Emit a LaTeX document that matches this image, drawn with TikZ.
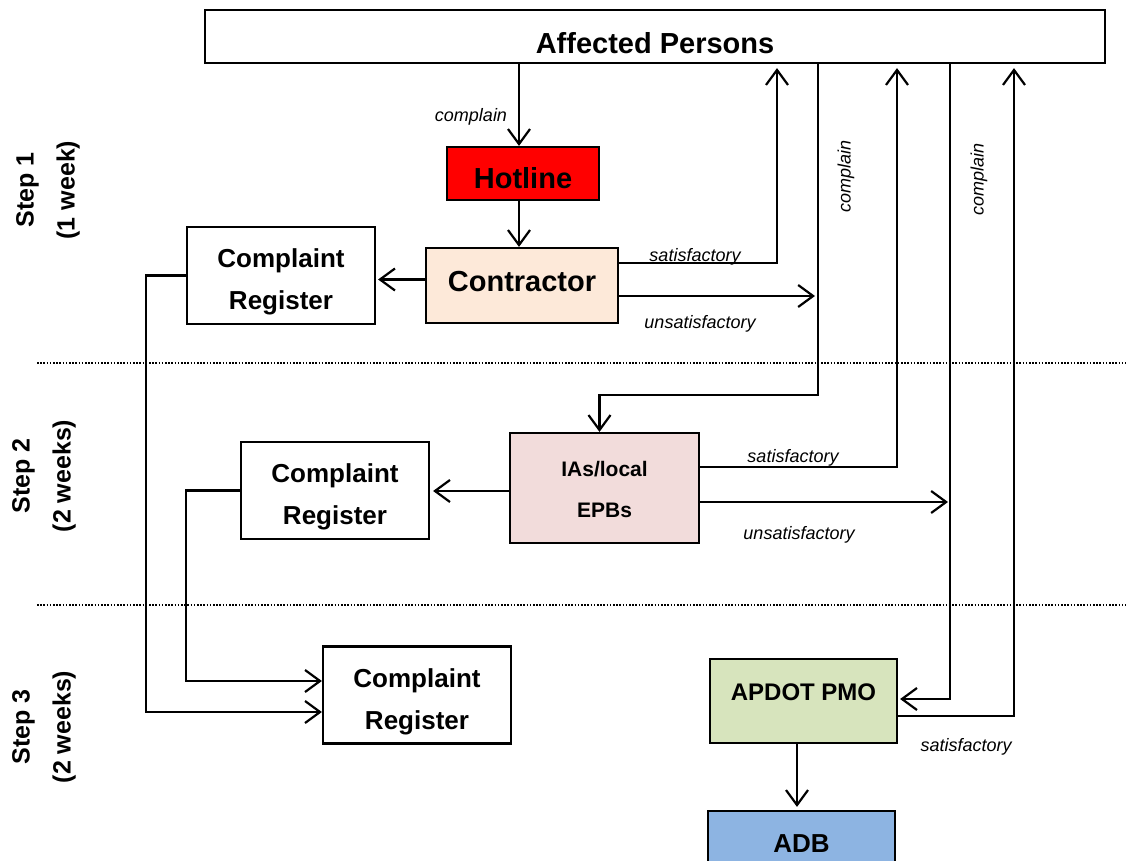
\documentclass[tikz,border=0pt]{standalone}
\usepackage{fontspec}
\setmainfont{Liberation Sans}
\usetikzlibrary{arrows.meta,calc}

\definecolor{hotred}{HTML}{FF0000}
\definecolor{peach}{HTML}{FDE9D9}
\definecolor{rose}{HTML}{F2DCDB}
\definecolor{sage}{HTML}{D7E4BD}
\definecolor{sky}{HTML}{8DB4E2}

\begin{document}
\begin{tikzpicture}[x=1pt,y=-1pt,
  box/.style={draw=black,line width=2.2pt,rectangle,inner sep=0pt},
  regbox/.style={box,fill=white,minimum width=188,minimum height=97},
  regtext/.style={font=\fontsize{26}{42}\selectfont\bfseries,align=center,inner sep=0pt},
  link/.style={line width=2.2pt,-{Straight Barb[length=15pt,width=22pt]}},
  lab/.style={font=\fontsize{18}{22}\selectfont\itshape,inner sep=0pt},
  steplab/.style={font=\fontsize{25}{41}\selectfont\bfseries,align=center,inner sep=0pt,rotate=90},
  sep/.style={line width=1.6pt,dash pattern=on 1.6pt off 1.6pt}
]
\path[use as bounding box] (0,0) rectangle (1126,861);

% step separators
\draw[sep] (37,363) -- (1126,363);
\draw[sep] (37,605) -- (1126,605);

% step labels
\node[steplab] (s1) at (48,190) {Step 1\\(1 week)};
\node[steplab] (s2) at (44,476) {Step 2\\(2 weeks)};
\node[steplab] (s3) at (44,727) {Step 3\\(2 weeks)};

% boxes
\node[box,minimum width=900,minimum height=53,
  label={[name=aptext,font=\fontsize{29}{35}\selectfont\bfseries,yshift=-6.5pt]center:Affected Persons}]
  (ap) at (655,36.5) {};
\node[box,fill=hotred,minimum width=152,minimum height=53,
  label={[name=hottext,font=\fontsize{29}{35}\selectfont\bfseries,yshift=-5pt]center:Hotline}]
  (hotline) at (523,173.5) {};
\node[box,fill=peach,minimum width=192,minimum height=75,
  label={[name=context,font=\fontsize{29}{35}\selectfont\bfseries,yshift=4pt]center:Contractor}]
  (contractor) at (522,285.5) {};
\node[regbox,label={[name=cr1text,regtext,yshift=-6pt]center:Complaint\\Register}]
  (cr1) at (281,275.5) {};
\node[box,fill=rose,minimum width=189,minimum height=110,
  label={[name=iastext,font=\fontsize{21}{41}\selectfont\bfseries,align=center,inner sep=0pt,yshift=-1pt]center:IAs/local\\EPBs}]
  (ias) at (604.5,488) {};
\node[regbox,label={[name=cr2text,regtext,yshift=-6pt]center:Complaint\\Register}]
  (cr2) at (335,490.5) {};
\node[regbox,label={[name=cr3text,regtext,yshift=-7pt]center:Complaint\\Register}]
  (cr3) at (417,695) {};
\node[box,fill=sage,minimum width=187,minimum height=84,
  label={[name=apdottext,font=\fontsize{24}{29}\selectfont\bfseries,yshift=9pt]center:APDOT PMO}]
  (apdot) at (803.5,701) {};
\node[box,fill=sky,minimum width=187,minimum height=65,
  label={[name=adbtext,font=\fontsize{26}{31}\selectfont\bfseries]center:ADB}]
  (adb) at (801.5,843.5) {};

% turning points of the two complaint channels
\coordinate (v1) at (818,395);
\coordinate (v2) at (950,699);

% step 1
\draw[link] ($(hotline.north |- ap.south)+(-4,0)$) -- ($(hotline.north)+(-4,0)$);
\node[lab] (cmp0) at (471,117) {complain};
\draw[link] ($(hotline.south)+(-4,0)$) -- ($(contractor.north)+(-3,0)$);
\draw[link] ($(contractor.west)+(0,-6)$) -- ($(cr1.east |- contractor.west)+(2,-6)$);
\draw[link] (cr1.west) -- ++(-40,0) |- ($(cr3.west)+(0,17)$);
\draw[link] ($(contractor.east)+(0,-22.5)$) -| ($(ap.south)+(122,4)$);
\node[lab,anchor=base] (sat1) at (695,261) {satisfactory};
\draw[link] ($(contractor.east)+(0,10.5)$) -- ($(v1 |- contractor.east)+(-3,10.5)$);
\node[lab,anchor=base] (uns1) at (700,328) {unsatisfactory};

% step 2
\draw[link] (v1 |- ap.south) -- (v1) -| ($(ias.north)+(-5,0)$);
\node[lab,rotate=90] (cmp1) at (846,176) {complain};
\draw[link] ($(ias.west)+(0,3)$) -- ($(cr2.east |- ias.west)+(3,3)$);
\draw[link] (cr2.west) -- ++(-54,0) |- ($(cr3.west)+(0,-14)$);
\draw[link] ($(ias.east)+(0,-21)$) -| ($(ap.south)+(242,4)$);
\node[lab,anchor=base] (sat2) at (793,462) {satisfactory};
\draw[link] ($(ias.east)+(0,14)$) -- ($(v2 |- ias.east)+(-2,14)$);
\node[lab,anchor=base] (uns2) at (799,539) {unsatisfactory};

% step 3
\draw[link] (v2 |- ap.south) -- (v2) -- ($(apdot.east |- v2)+(2,0)$);
\node[lab,rotate=90] (cmp2) at (979,179) {complain};
\draw[link] ($(apdot.east)+(0,15)$) -| ($(ap.south)+(359,4)$);
\node[lab,anchor=base] (sat3) at (966,751) {satisfactory};
\draw[link] ($(apdot.south)+(-6.5,0)$) -- ($(adb.north)+(-4.5,-3)$);
\end{tikzpicture}
\end{document}
